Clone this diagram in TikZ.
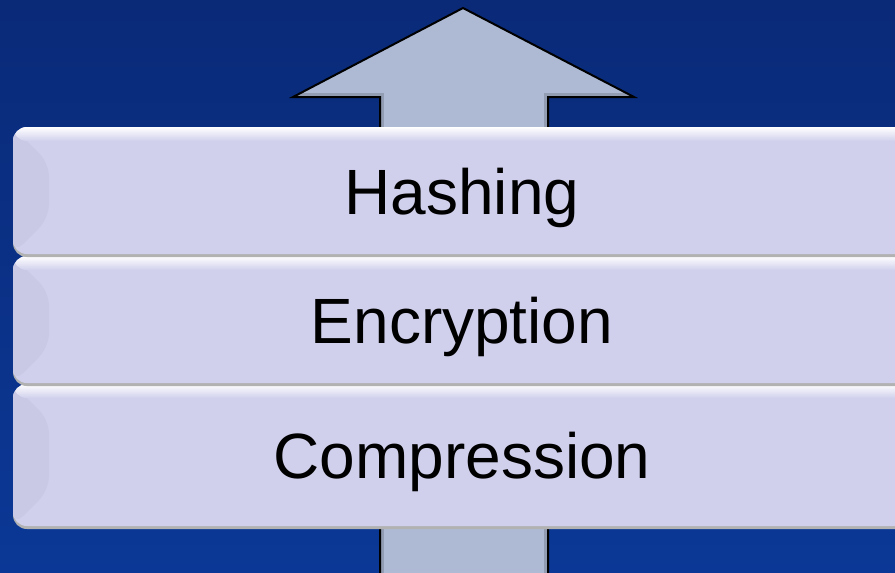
\documentclass[tikz,border=0pt]{standalone}
\usepackage{fontspec}
\setmainfont{Liberation Sans}
\usepackage{tikz}
\usetikzlibrary{positioning,calc,shadows}
\definecolor{bgtop}{RGB}{10, 42, 120}
\definecolor{bgbottom}{RGB}{11, 56, 150}
\definecolor{arrowfill}{RGB}{174, 186, 212}
\definecolor{layerfill}{RGB}{208, 208, 236}
\definecolor{layerdark}{RGB}{201, 201, 230}

\tikzset{
  layer/.style={rounded corners=14pt, fill=layerfill, inner sep=0pt,
    minimum width=898pt, text height=47pt, text depth=0pt,
    font=\fontsize{64pt}{70pt}\selectfont,
    drop shadow={shadow xshift=0pt, shadow yshift=-3pt, fill=gray!60, opacity=1},
    path picture={
      \fill[layerdark] (path picture bounding box.north west)
        -- ([xshift=36pt,yshift=-36pt]path picture bounding box.north west)
        -- ([xshift=36pt,yshift=36pt]path picture bounding box.south west)
        -- (path picture bounding box.south west) -- cycle;
      \shade[top color=white, bottom color=layerfill]
        (path picture bounding box.north west)
        rectangle ([yshift=-14pt]path picture bounding box.north east);
    }}
}

\begin{document}
\begin{tikzpicture}[x=1pt,y=-1pt]
      \useasboundingbox (0,0) rectangle (895,573);
      \clip (0,0) rectangle (895,573);
      \shade[top color=bgtop, bottom color=bgbottom] (0,0) rectangle (895,573);

      % big arrow behind the layers
      \fill[arrowfill] (463,8) -- (634,97) -- (548,97) -- (548,590)
        -- (380,590) -- (380,97) -- (293,97) -- cycle;
      \begin{scope}
        \clip (463,8) -- (634,97) -- (548,97) -- (548,590)
          -- (380,590) -- (380,97) -- (293,97) -- cycle;
        \draw[arrowfill!55!black, line width=8pt, opacity=.35, line join=miter]
          (634,97) -- (548,97) -- (548,590)
          (380,590) -- (380,97) -- (293,97);
      \end{scope}
      \draw[line width=2pt, line join=miter]
        (463,8) -- (634,97) -- (548,97) -- (548,590)
        -- (380,590) -- (380,97) -- (293,97) -- cycle;

      \node[layer, minimum height=142pt] (compression) at (462,455) {Compression};
      \node[layer, minimum height=127pt] (encryption) at (462,319.5) {Encryption};
      \node[layer, minimum height=127pt] (hashing) at (462,190.5) {Hashing};
    \end{tikzpicture}
\end{document}
